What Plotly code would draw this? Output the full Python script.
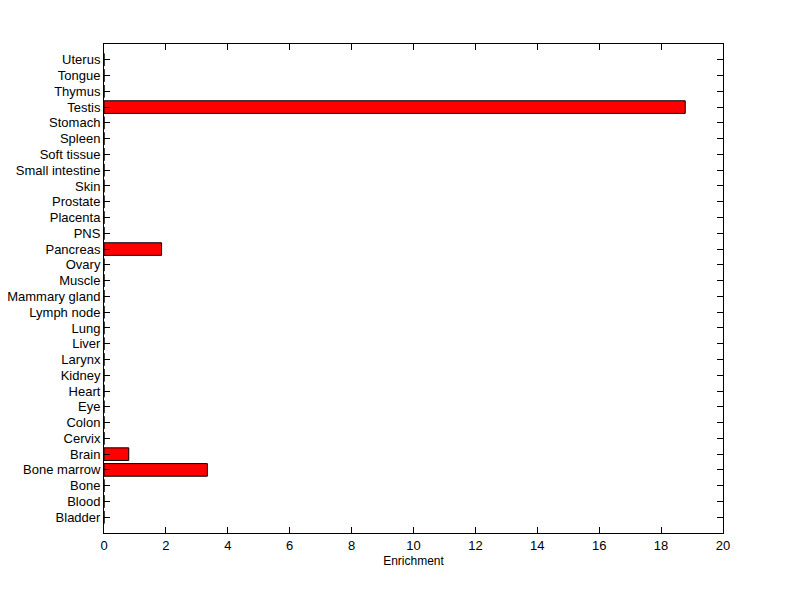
import plotly.graph_objects as go

tissues = ["Bladder", "Blood", "Bone", "Bone marrow", "Brain", "Cervix", "Colon", "Eye",
           "Heart", "Kidney", "Larynx", "Liver", "Lung", "Lymph node", "Mammary gland",
           "Muscle", "Ovary", "Pancreas", "PNS", "Placenta", "Prostate", "Skin",
           "Small intestine", "Soft tissue", "Spleen", "Stomach", "Testis", "Thymus",
           "Tongue", "Uterus"]
enrichment = [0, 0, 0, 3.34, 0.80, 0, 0, 0, 0, 0, 0, 0, 0, 0, 0, 0, 0, 1.86, 0, 0, 0, 0,
              0, 0, 0, 0, 18.78, 0, 0, 0]
x_ticks = [0, 2, 4, 6, 8, 10, 12, 14, 16, 18, 20]

positions = list(range(len(tissues)))

fig = go.Figure()
fig.add_trace(go.Bar(
    x=enrichment, y=positions, orientation="h", width=0.8,
    marker=dict(color="#ff0000", line=dict(color="black", width=1)),
    showlegend=False,
))

font = dict(family="Liberation Sans, Arial, sans-serif", size=13, color="black")
fig.update_layout(
    width=800, height=599,
    margin=dict(l=96, r=85, t=36, b=74),
    paper_bgcolor="white", plot_bgcolor="white",
    font=font,
    xaxis=dict(range=[0, 20], tickvals=x_ticks, ticks="inside", ticklen=6,
               tickcolor="black", showline=True, linecolor="black", linewidth=1,
               mirror="ticks", showgrid=False, zeroline=False, automargin=False,
               title=dict(text="Enrichment", standoff=5, font=dict(size=12))),
    yaxis=dict(range=[-1, 30], tickvals=positions, ticktext=tissues, ticks="inside",
               ticklen=6, tickcolor="black", showline=True, linecolor="black",
               linewidth=1, mirror="ticks", showgrid=False, zeroline=False,
               automargin=False),
)
fig.write_html("out.html")
